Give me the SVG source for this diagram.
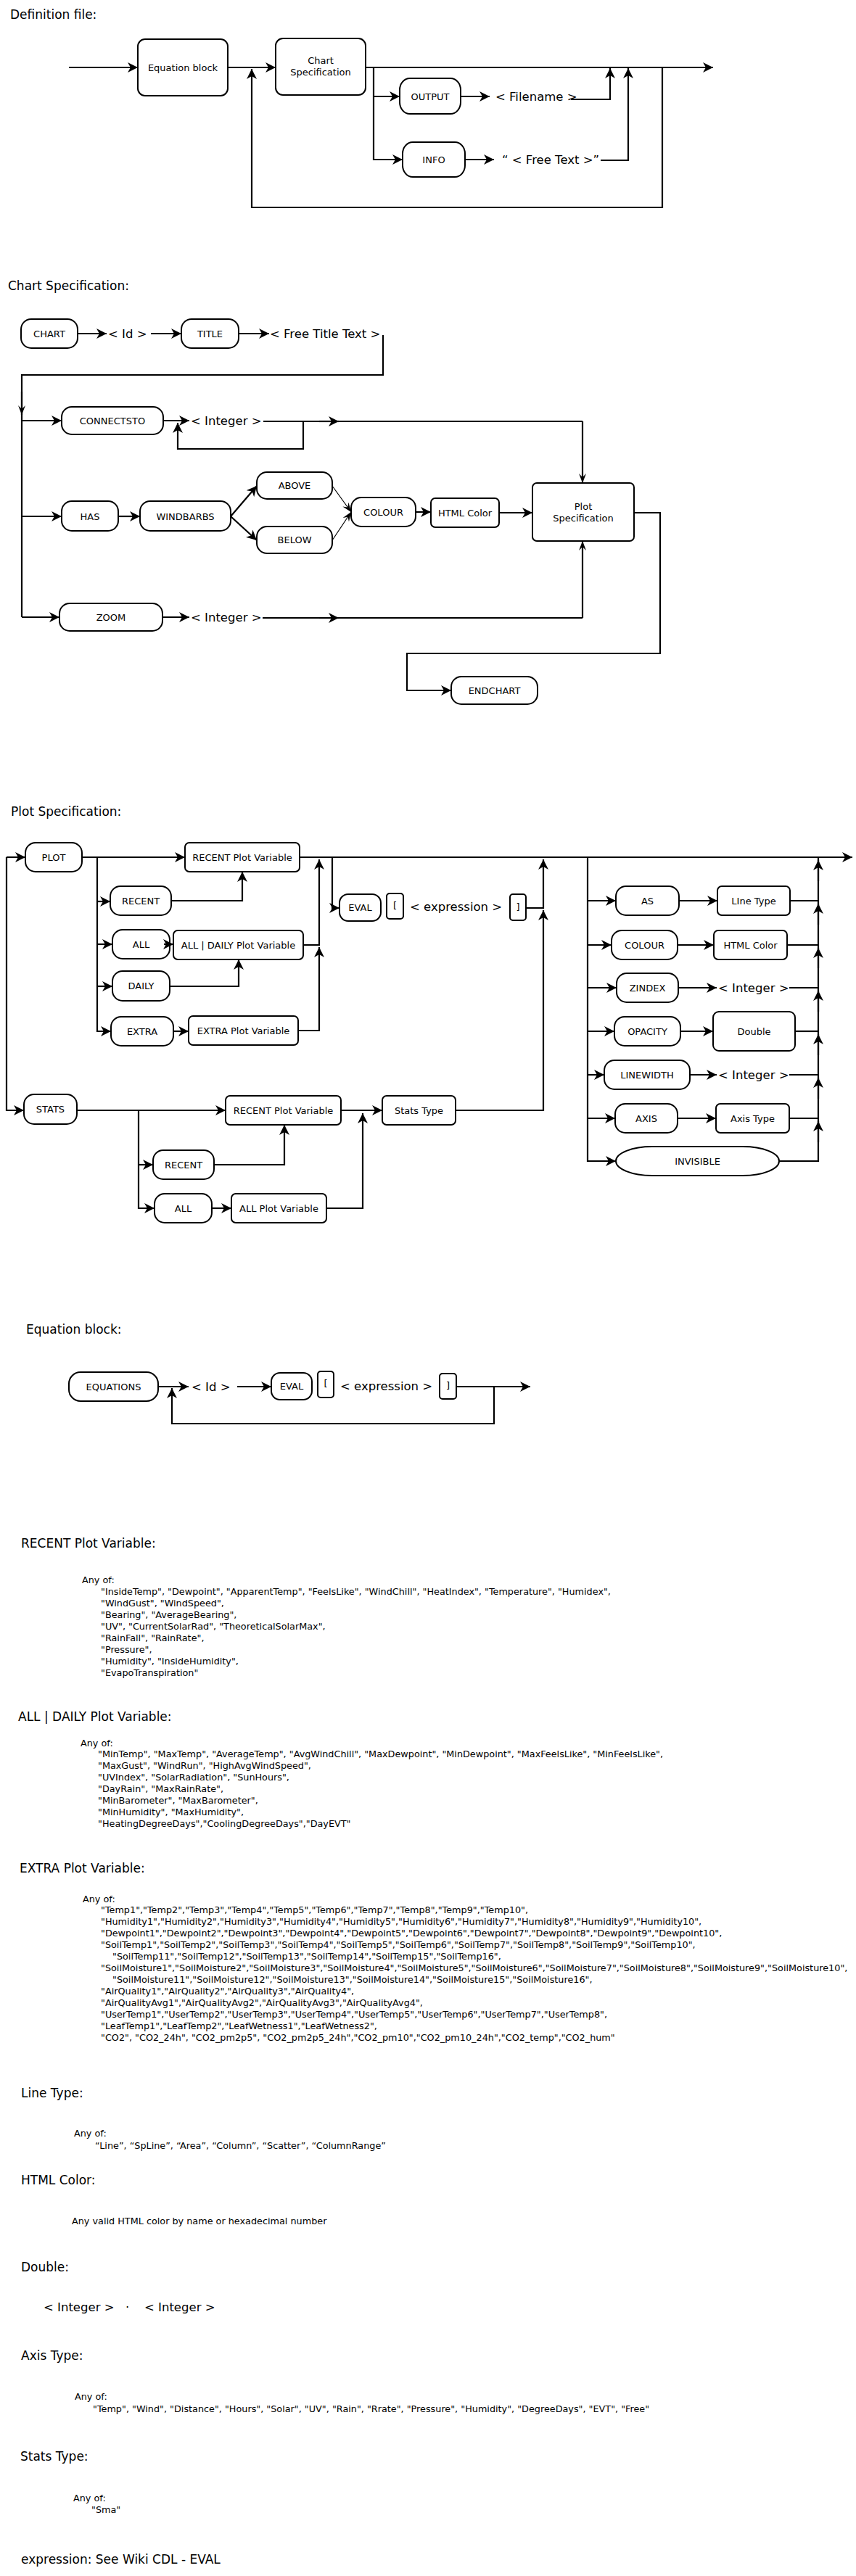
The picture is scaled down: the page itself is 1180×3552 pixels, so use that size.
<svg xmlns="http://www.w3.org/2000/svg" width="1180" height="3552" viewBox="0 0 1180 3552">
<style>
text{font-family:"DejaVu Sans","Liberation Sans",sans-serif;fill:#000}
.title{font-size:17px}
.lbl{font-size:13px;text-anchor:middle}
.tok{font-size:16.5px}
.lst{font-size:12.8px}
.n{fill:#fff;stroke:#000;stroke-width:2}
.c{fill:none;stroke:#000;stroke-width:2.2}
.ct{fill:none;stroke:#000;stroke-width:1.2}
.a{marker-end:url(#ah)}
.s{marker-end:url(#as)}
</style>
<defs>
<marker id="ah" markerUnits="userSpaceOnUse" markerWidth="15" markerHeight="14" refX="14" refY="7" orient="auto"><path d="M0,0 L14,7 L0,14 L4,7 z" fill="#000"/></marker>
<marker id="as" markerUnits="userSpaceOnUse" markerWidth="14" markerHeight="10" refX="13" refY="5" orient="auto"><path d="M0,0 L13,5 L0,10 L5,5 z" fill="#000"/></marker>
</defs>
<rect x="0" y="0" width="1180" height="3552" fill="#fff"/>

<!-- ============ Definition file ============ -->
<text class="title" x="14" y="26">Definition file:</text>
<g id="def-eqblock"><rect class="n" x="190" y="54" width="124" height="78" rx="10"/><text class="lbl" x="252" y="97.5">Equation block</text></g>
<g id="def-chartspec"><rect class="n" x="380" y="53" width="124" height="78" rx="10"/><text class="lbl" x="442" y="87.5">Chart</text><text class="lbl" x="442" y="103.5">Specification</text></g>
<g id="def-output"><rect class="n" x="551" y="108" width="84" height="49" rx="14" ry="16"/><text class="lbl" x="593" y="137.5">OUTPUT</text></g>
<g id="def-filename"><text class="tok" x="683" y="139">&lt; Filename &gt;</text></g>
<g id="def-info"><rect class="n" x="555" y="196" width="86" height="48" rx="14" ry="16"/><text class="lbl" x="598" y="224.5">INFO</text></g>
<g id="def-freetext"><text class="tok" x="692" y="226">“ &lt; Free Text &gt;”</text></g>
<g id="def-connectors">
<path class="c a" d="M95,93 H190"/>
<path class="c a" d="M314,93 H380"/>
<path class="c a" d="M504,93 H983"/>
<path class="c a" d="M515,93 V220 H555"/>
<path class="c a" d="M515,133 H551"/>
<path class="c a" d="M635,133 H675"/>
<path class="c a" d="M641,220 H681"/>
<path class="c a" d="M787,137 H841 V94"/>
<path class="c a" d="M828,221 H866 V94"/>
<path class="c a" d="M913,93 V286 H347 V95"/>
</g>

<!-- ============ Chart Specification ============ -->
<text class="title" x="11" y="400">Chart Specification:</text>
<g id="cs-chart"><rect class="n" x="29" y="440" width="78" height="40" rx="14"/><text class="lbl" x="68" y="464.5">CHART</text></g>
<g id="cs-id"><text class="tok" x="149" y="466">&lt; Id &gt;</text></g>
<g id="cs-title"><rect class="n" x="250" y="440" width="79" height="40" rx="14"/><text class="lbl" x="289.5" y="464.5">TITLE</text></g>
<g id="cs-freetitle"><text class="tok" x="372" y="466">&lt; Free Title Text &gt;</text></g>
<g id="cs-connectsto"><rect class="n" x="85" y="561" width="140" height="38" rx="14"/><text class="lbl" x="155" y="584.5">CONNECTSTO</text></g>
<g id="cs-integer1"><text class="tok" x="263" y="586">&lt; Integer &gt;</text></g>
<g id="cs-has"><rect class="n" x="85" y="691" width="78" height="41" rx="14"/><text class="lbl" x="124" y="716.5">HAS</text></g>
<g id="cs-windbarbs"><rect class="n" x="193" y="691" width="125" height="41" rx="14"/><text class="lbl" x="255.5" y="716.5">WINDBARBS</text></g>
<g id="cs-above"><rect class="n" x="354" y="651" width="104" height="37" rx="14"/><text class="lbl" x="406" y="674">ABOVE</text></g>
<g id="cs-below"><rect class="n" x="354" y="726" width="104" height="37" rx="14"/><text class="lbl" x="406" y="749">BELOW</text></g>
<g id="cs-colour"><rect class="n" x="484" y="686" width="89" height="40" rx="14"/><text class="lbl" x="528.5" y="710.5">COLOUR</text></g>
<g id="cs-htmlcolor"><rect class="n" x="594" y="687" width="94" height="40" rx="6"/><text class="lbl" x="641" y="711.5">HTML Color</text></g>
<g id="cs-plotspec"><rect class="n" x="734" y="666" width="140" height="80" rx="6"/><text class="lbl" x="804" y="702.5">Plot</text><text class="lbl" x="804" y="719">Specification</text></g>
<g id="cs-zoom"><rect class="n" x="82" y="832" width="142" height="38" rx="14"/><text class="lbl" x="153" y="855.5">ZOOM</text></g>
<g id="cs-integer2"><text class="tok" x="263" y="857">&lt; Integer &gt;</text></g>
<g id="cs-endchart"><rect class="n" x="622" y="933" width="119" height="38" rx="14"/><text class="lbl" x="681.5" y="956.5">ENDCHART</text></g>
<g id="cs-connectors">
<path class="c a" d="M107,460 H147"/>
<path class="c a" d="M208,460 H250"/>
<path class="c a" d="M329,460 H371"/>
<path class="c" d="M528,462 V517 H30 V851"/>
<path class="c s" d="M30,540 V572"/>
<path class="c a" d="M30,580 H85"/>
<path class="c a" d="M30,712 H85"/>
<path class="c a" d="M30,851 H82"/>
<path class="c a" d="M225,580 H261"/>
<path class="c" d="M363,581 H803"/>
<path class="c a" d="M440,581 H467"/>
<path class="c s" d="M803,581 V666"/>
<path class="c a" d="M418,581 V619 H245 V583"/>
<path class="c a" d="M163,712 H193"/>
<path class="c a" d="M318,712 L354,670"/>
<path class="c a" d="M318,712 L354,745"/>
<path class="ct s" d="M458,670 L484,706"/>
<path class="ct s" d="M458,745 L484,706"/>
<path class="c a" d="M573,706 H594"/>
<path class="c a" d="M688,707 H734"/>
<path class="c a" d="M224,851 H261"/>
<path class="c" d="M362,852 H803"/>
<path class="c a" d="M440,852 H467"/>
<path class="c s" d="M803,852 V746"/>
<path class="c a" d="M874,707 H910 V901 H561 V952 H622"/>
</g>

<!-- ============ Plot Specification ============ -->
<text class="title" x="15" y="1125">Plot Specification:</text>
<g id="ps-plot"><rect class="n" x="35" y="1162" width="78" height="40" rx="14"/><text class="lbl" x="74" y="1186.5">PLOT</text></g>
<g id="ps-rpv"><rect class="n" x="255" y="1162" width="158" height="40" rx="6"/><text class="lbl" x="334" y="1186.5">RECENT Plot Variable</text></g>
<g id="ps-recent"><rect class="n" x="152" y="1222" width="84" height="40" rx="14"/><text class="lbl" x="194" y="1246.5">RECENT</text></g>
<g id="ps-all"><rect class="n" x="155" y="1282" width="79" height="40" rx="14"/><text class="lbl" x="194.5" y="1306.5">ALL</text></g>
<g id="ps-adpv"><rect class="n" x="239" y="1283" width="179" height="40" rx="6"/><text class="lbl" x="328.5" y="1307.5">ALL | DAILY Plot Variable</text></g>
<g id="ps-daily"><rect class="n" x="155" y="1339" width="79" height="41" rx="14"/><text class="lbl" x="194.5" y="1364">DAILY</text></g>
<g id="ps-extra"><rect class="n" x="153" y="1402" width="86" height="40" rx="14"/><text class="lbl" x="196" y="1426.5">EXTRA</text></g>
<g id="ps-epv"><rect class="n" x="260" y="1401" width="151" height="40" rx="6"/><text class="lbl" x="335.5" y="1425.5">EXTRA Plot Variable</text></g>
<g id="ps-eval"><rect class="n" x="468" y="1233" width="57" height="37" rx="12"/><text class="lbl" x="496.5" y="1256">EVAL</text></g>
<g id="ps-lbracket"><rect class="n" x="533" y="1232" width="23" height="35" rx="4"/><text class="lbl" x="544.5" y="1253">[</text></g>
<g id="ps-expression"><text class="tok" x="565" y="1256">&lt; expression &gt;</text></g>
<g id="ps-rbracket"><rect class="n" x="703" y="1233" width="22" height="36" rx="4"/><text class="lbl" x="714" y="1255">]</text></g>
<g id="ps-as"><rect class="n" x="849" y="1222" width="87" height="40" rx="14"/><text class="lbl" x="892.5" y="1246.5">AS</text></g>
<g id="ps-linetype"><rect class="n" x="989" y="1222" width="100" height="40" rx="6"/><text class="lbl" x="1039" y="1246.5">LIne Type</text></g>
<g id="ps-colour"><rect class="n" x="843" y="1283" width="91" height="40" rx="14"/><text class="lbl" x="888.5" y="1307.5">COLOUR</text></g>
<g id="ps-htmlcolor"><rect class="n" x="984" y="1283" width="101" height="40" rx="6"/><text class="lbl" x="1034.5" y="1307.5">HTML Color</text></g>
<g id="ps-zindex"><rect class="n" x="850" y="1342" width="85" height="40" rx="14"/><text class="lbl" x="892.5" y="1366.5">ZINDEX</text></g>
<g id="ps-integer1"><text class="tok" x="990" y="1368">&lt; Integer &gt;</text></g>
<g id="ps-opacity"><rect class="n" x="847" y="1402" width="91" height="40" rx="14"/><text class="lbl" x="892.5" y="1426.5">OPACITY</text></g>
<g id="ps-double"><rect class="n" x="983" y="1395" width="113" height="54" rx="8"/><text class="lbl" x="1039.5" y="1426.5">Double</text></g>
<g id="ps-linewidth"><rect class="n" x="833" y="1462" width="118" height="40" rx="14"/><text class="lbl" x="892" y="1486.5">LINEWIDTH</text></g>
<g id="ps-integer2"><text class="tok" x="990" y="1488">&lt; Integer &gt;</text></g>
<g id="ps-axis"><rect class="n" x="848" y="1522" width="86" height="40" rx="14"/><text class="lbl" x="891" y="1546.5">AXIS</text></g>
<g id="ps-axistype"><rect class="n" x="987" y="1522" width="101" height="40" rx="6"/><text class="lbl" x="1037.5" y="1546.5">Axis Type</text></g>
<g id="ps-invisible"><rect class="n" x="849" y="1581" width="225" height="40" rx="50" ry="20"/><text class="lbl" x="961.5" y="1605.5">INVISIBLE</text></g>
<g id="ps-stats"><rect class="n" x="33" y="1509" width="73" height="41" rx="14"/><text class="lbl" x="69.5" y="1534">STATS</text></g>
<g id="ps-rpv2"><rect class="n" x="311" y="1511" width="159" height="40" rx="6"/><text class="lbl" x="390.5" y="1535.5">RECENT Plot Variable</text></g>
<g id="ps-statstype"><rect class="n" x="527" y="1511" width="101" height="40" rx="6"/><text class="lbl" x="577.5" y="1535.5">Stats Type</text></g>
<g id="ps-recent2"><rect class="n" x="211" y="1586" width="84" height="40" rx="14"/><text class="lbl" x="253" y="1610.5">RECENT</text></g>
<g id="ps-all2"><rect class="n" x="213" y="1646" width="79" height="40" rx="14"/><text class="lbl" x="252.5" y="1670.5">ALL</text></g>
<g id="ps-allpv"><rect class="n" x="319" y="1646" width="131" height="40" rx="6"/><text class="lbl" x="384.5" y="1670.5">ALL Plot Variable</text></g>
<g id="ps-connectors">
<path class="c a" d="M9,1182 H35"/>
<path class="c a" d="M9,1182 V1531 H33"/>
<path class="c a" d="M113,1182 H255"/>
<path class="c a" d="M134,1182 V1422 H153"/>
<path class="c a" d="M134,1243 H152"/>
<path class="c a" d="M134,1302 H155"/>
<path class="c a" d="M134,1360 H155"/>
<path class="c a" d="M236,1242 H334 V1202"/>
<path class="c a" d="M226,1302 H239"/>
<path class="c a" d="M234,1360 H329 V1323"/>
<path class="c a" d="M239,1422 H260"/>
<path class="c a" d="M411,1421 H440 V1306"/>
<path class="c a" d="M418,1303 H440 V1185"/>
<path class="c a" d="M413,1182 H1175"/>
<path class="c a" d="M458,1182 V1252 H468"/>
<path class="c a" d="M725,1252 H749 V1185"/>
<path class="c a" d="M628,1531 H749 V1255"/>
<path class="c a" d="M810,1182 V1601 H849"/>
<path class="c a" d="M810,1242 H849"/>
<path class="c a" d="M810,1303 H843"/>
<path class="c a" d="M810,1362 H850"/>
<path class="c a" d="M810,1422 H847"/>
<path class="c a" d="M810,1482 H833"/>
<path class="c a" d="M810,1542 H848"/>
<path class="c a" d="M936,1242 H989"/>
<path class="c a" d="M934,1303 H984"/>
<path class="c a" d="M935,1362 H988"/>
<path class="c a" d="M938,1422 H983"/>
<path class="c a" d="M951,1482 H988"/>
<path class="c a" d="M934,1542 H987"/>
<path class="c" d="M1089,1242 H1128"/>
<path class="c" d="M1085,1303 H1128"/>
<path class="c" d="M1088,1362 H1128"/>
<path class="c" d="M1096,1422 H1128"/>
<path class="c" d="M1088,1482 H1128"/>
<path class="c" d="M1088,1542 H1128"/>
<path class="c" d="M1074,1601 H1128 V1182"/>
<path class="c a" d="M1128,1215 V1186"/>
<path class="c a" d="M1128,1275 V1246"/>
<path class="c a" d="M1128,1335 V1307"/>
<path class="c a" d="M1128,1395 V1366"/>
<path class="c a" d="M1128,1455 V1426"/>
<path class="c a" d="M1128,1515 V1486"/>
<path class="c a" d="M1128,1575 V1546"/>
<path class="c a" d="M106,1531 H311"/>
<path class="c a" d="M191,1531 V1666 H213"/>
<path class="c a" d="M191,1606 H211"/>
<path class="c a" d="M295,1606 H392 V1551"/>
<path class="c a" d="M292,1666 H319"/>
<path class="c a" d="M450,1666 H500 V1535"/>
<path class="c a" d="M470,1531 H527"/>
</g>

<!-- ============ Equation block ============ -->
<text class="title" x="36" y="1839">Equation block:</text>
<g id="eq-equations"><rect class="n" x="95" y="1892" width="123" height="40" rx="16"/><text class="lbl" x="156.5" y="1916.5">EQUATIONS</text></g>
<g id="eq-id"><text class="tok" x="264" y="1918">&lt; Id &gt;</text></g>
<g id="eq-eval"><rect class="n" x="374" y="1893" width="56" height="37" rx="12"/><text class="lbl" x="402" y="1916">EVAL</text></g>
<g id="eq-lbracket"><rect class="n" x="438" y="1891" width="22" height="36" rx="4"/><text class="lbl" x="449" y="1912">[</text></g>
<g id="eq-expression"><text class="tok" x="469" y="1917">&lt; expression &gt;</text></g>
<g id="eq-rbracket"><rect class="n" x="606" y="1894" width="23" height="35" rx="4"/><text class="lbl" x="617.5" y="1915">]</text></g>
<g id="eq-connectors">
<path class="c a" d="M218,1912 H260"/>
<path class="c a" d="M327,1912 H374"/>
<path class="c a" d="M629,1912 H731"/>
<path class="c a" d="M681,1912 V1963 H237 V1914"/>
</g>

<!-- ============ Definitions ============ -->
<text class="title" x="29" y="2134">RECENT Plot Variable:</text>
<text class="lst" x="113" y="2183">Any of:</text>
<text class="lst" x="139" y="2199">"InsideTemp", "Dewpoint", "ApparentTemp", "FeelsLike", "WindChill", "HeatIndex", "Temperature", "Humidex",</text>
<text class="lst" x="139" y="2215">"WindGust", "WindSpeed",</text>
<text class="lst" x="139" y="2231">"Bearing", "AverageBearing",</text>
<text class="lst" x="139" y="2247">"UV", "CurrentSolarRad", "TheoreticalSolarMax",</text>
<text class="lst" x="139" y="2263">"RainFall", "RainRate",</text>
<text class="lst" x="139" y="2279">"Pressure",</text>
<text class="lst" x="139" y="2295">"Humidity", "InsideHumidity",</text>
<text class="lst" x="139" y="2311">"EvapoTranspiration"</text>

<text class="title" x="25" y="2373">ALL | DAILY Plot Variable:</text>
<text class="lst" x="111" y="2408">Any of:</text>
<text class="lst" x="135" y="2423">"MinTemp", "MaxTemp", "AverageTemp", "AvgWindChill", "MaxDewpoint", "MinDewpoint", "MaxFeelsLike", "MinFeelsLike",</text>
<text class="lst" x="135" y="2439">"MaxGust", "WindRun", "HighAvgWindSpeed",</text>
<text class="lst" x="135" y="2455">"UVIndex", "SolarRadiation", "SunHours",</text>
<text class="lst" x="135" y="2471">"DayRain", "MaxRainRate",</text>
<text class="lst" x="135" y="2487">"MinBarometer", "MaxBarometer",</text>
<text class="lst" x="135" y="2503">"MinHumidity", "MaxHumidity",</text>
<text class="lst" x="135" y="2519">"HeatingDegreeDays","CoolingDegreeDays","DayEVT"</text>

<text class="title" x="27" y="2582">EXTRA Plot Variable:</text>
<text class="lst" x="114" y="2623">Any of:</text>
<text class="lst" x="139" y="2638">"Temp1","Temp2","Temp3","Temp4","Temp5","Temp6","Temp7","Temp8","Temp9","Temp10",</text>
<text class="lst" x="139" y="2654">"Humidity1","Humidity2","Humidity3","Humidity4","Humidity5","Humidity6","Humidity7","Humidity8","Humidity9","Humidity10",</text>
<text class="lst" x="139" y="2670">"Dewpoint1","Dewpoint2","Dewpoint3","Dewpoint4","Dewpoint5","Dewpoint6","Dewpoint7","Dewpoint8","Dewpoint9","Dewpoint10",</text>
<text class="lst" x="139" y="2686">"SoilTemp1","SoilTemp2","SoilTemp3","SoilTemp4","SoilTemp5","SoilTemp6","SoilTemp7","SoilTemp8","SoilTemp9","SoilTemp10",</text>
<text class="lst" x="155" y="2702">"SoilTemp11","SoilTemp12","SoilTemp13","SoilTemp14","SoilTemp15","SoilTemp16",</text>
<text class="lst" x="139" y="2718">"SoilMoisture1","SoilMoisture2","SoilMoisture3","SoilMoisture4","SoilMoisture5","SoilMoisture6","SoilMoisture7","SoilMoisture8","SoilMoisture9","SoilMoisture10",</text>
<text class="lst" x="155" y="2734">"SoilMoisture11","SoilMoisture12","SoilMoisture13","SoilMoisture14","SoilMoisture15","SoilMoisture16",</text>
<text class="lst" x="139" y="2750">"AirQuality1","AirQuality2","AirQuality3","AirQuality4",</text>
<text class="lst" x="139" y="2766">"AirQualityAvg1","AirQualityAvg2","AirQualityAvg3","AirQualityAvg4",</text>
<text class="lst" x="139" y="2782">"UserTemp1","UserTemp2","UserTemp3","UserTemp4","UserTemp5","UserTemp6","UserTemp7","UserTemp8",</text>
<text class="lst" x="139" y="2798">"LeafTemp1","LeafTemp2","LeafWetness1","LeafWetness2",</text>
<text class="lst" x="139" y="2814">"CO2", "CO2_24h", "CO2_pm2p5", "CO2_pm2p5_24h","CO2_pm10","CO2_pm10_24h","CO2_temp","CO2_hum"</text>

<text class="title" x="29" y="2892">Line Type:</text>
<text class="lst" x="102" y="2946">Any of:</text>
<text class="lst" x="131" y="2963">“Line”,  “SpLine”,  “Area”,  “Column”, “Scatter”, “ColumnRange”</text>

<text class="title" x="29" y="3012">HTML Color:</text>
<text class="lst" x="99" y="3067">Any valid HTML color by name or hexadecimal number</text>

<text class="title" x="29" y="3132">Double:</text>
<text class="tok" x="60" y="3187">&lt; Integer &gt;</text>
<text class="tok" x="173" y="3187">·</text>
<text class="tok" x="199" y="3187">&lt; Integer &gt;</text>

<text class="title" x="29" y="3254">Axis Type:</text>
<text class="lst" x="103" y="3309">Any of:</text>
<text class="lst" x="128" y="3326">"Temp", "Wind", "Distance", "Hours", "Solar", "UV", "Rain", "Rrate", "Pressure", "Humidity", "DegreeDays", "EVT", "Free"</text>

<text class="title" x="28" y="3393">Stats Type:</text>
<text class="lst" x="101" y="3449">Any of:</text>
<text class="lst" x="126" y="3465">"Sma"</text>

<text class="title" x="29" y="3535">expression: See Wiki CDL - EVAL</text>
</svg>
